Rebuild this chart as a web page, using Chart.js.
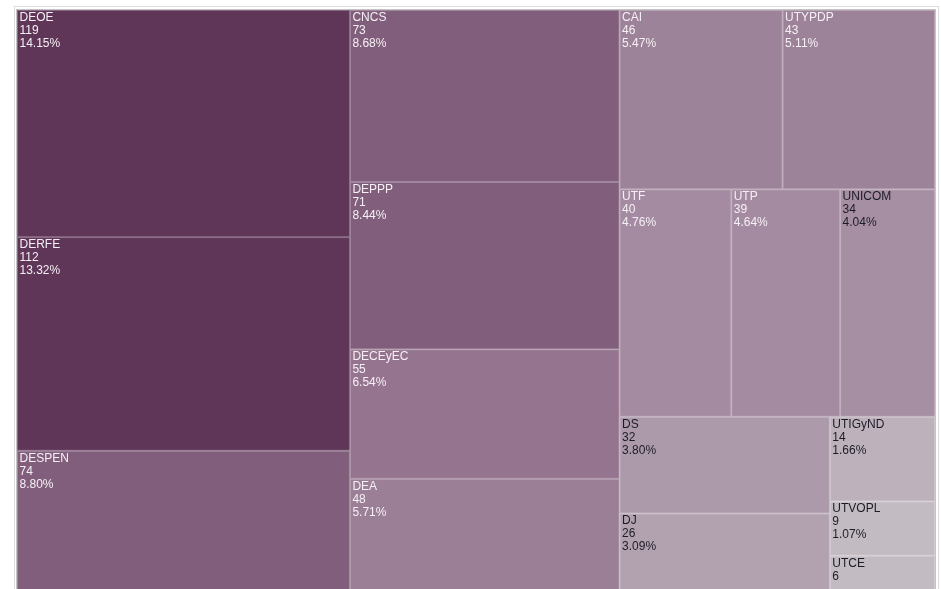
<!DOCTYPE html>
<html>
<head>
<meta charset="utf-8">
<script src="https://cdn.jsdelivr.net/npm/chart.js@4/dist/chart.umd.min.js"></script>
<style>
  html, body { margin: 0; padding: 0; background: #fff; overflow: hidden; }
  #frame { position: absolute; left: 14px; top: 6px; width: 923px; height: 700px; border: 1px solid #dcdcdc; }
  #chart { position: absolute; left: 0; top: 0; }
</style>
</head>
<body>
<div id="frame"></div>
<canvas id="chart" width="941" height="600"></canvas>
<script>
// dependencias y cantidades
const labels = ["DEOE", "DERFE", "DESPEN", "CNCS", "DEPPP", "DECEyEC", "DEA", "CAI", "UTYPDP",
  "UTF", "UTP", "UNICOM", "DS", "DJ", "UTIGyND", "UTVOPL", "UTCE"];
const counts = [119, 112, 74, 73, 71, 55, 48, 46, 43, 40, 39, 34, 32, 26, 14, 9, 6];

// colours per cell
const fillColors = ["#5f3558", "#5f3558", "#815f7c", "#815f7c", "#815f7c", "#95748f", "#9a7f96",
  "#9d8399", "#9d8399", "#a48ba1", "#a48ba1", "#a78fa3", "#ac9aab", "#b2a2b0", "#bdb2bb",
  "#c3bbc2", "#c3bbc2"];
const textColors = ["#f6f0f5", "#f6f0f5", "#f6f0f5", "#f6f0f5", "#f6f0f5", "#f6f0f5", "#f6f0f5",
  "#f6f0f5", "#f6f0f5", "#f6f0f5", "#f6f0f5", "#1c1c28", "#1c1c28", "#1c1c28", "#1c1c28",
  "#1c1c28", "#1c1c28"];

const total = counts.reduce((a, b) => a + b, 0);
const percent = (v) => (v / total * 100).toFixed(2) + "%";

// d3-style squarify (golden ratio)
const PHI = (1 + Math.sqrt(5)) / 2;
const squarify = (values, x0, y0, x1, y1) => {
  const out = [];
  let i0 = 0, i1 = 0, value = values.reduce((a, b) => a + b, 0);
  const n = values.length;
  while (i0 < n) {
    const dx = x1 - x0, dy = y1 - y0;
    let sum = values[i1++];
    let minV = sum, maxV = sum;
    const alpha = Math.max(dy / dx, dx / dy) / (value * PHI);
    let beta = sum * sum * alpha;
    let minRatio = Math.max(maxV / beta, beta / minV);
    for (; i1 < n; ++i1) {
      const v = values[i1];
      sum += v;
      if (v < minV) minV = v;
      if (v > maxV) maxV = v;
      beta = sum * sum * alpha;
      const r = Math.max(maxV / beta, beta / minV);
      if (r > minRatio) { sum -= v; break; }
      minRatio = r;
    }
    const dice = dx < dy;
    if (dice) {
      const ny = i1 < n ? y0 + dy * sum / value : y1;
      let x = x0;
      for (let i = i0; i < i1; i++) {
        const w = (x1 - x0) * values[i] / sum;
        out.push({ i, x0: x, y0, x1: x + w, y1: ny });
        x += w;
      }
      y0 = ny;
    } else {
      const nx = i1 < n ? x0 + dx * sum / value : x1;
      let y = y0;
      for (let i = i0; i < i1; i++) {
        const h = (y1 - y0) * values[i] / sum;
        out.push({ i, x0, y0: y, x1: nx, y1: y + h });
        y += h;
      }
      x0 = nx;
    }
    value -= sum;
    i0 = i1;
  }
  return out;
};

const LINE_H = 13;

const treemapPlugin = {
  id: "treemap",
  afterDatasetsDraw(chart) {
    const { ctx, chartArea, scales: { x, y } } = chart;
    const rects = squarify(counts, x.min, y.min, x.max, y.max);
    ctx.save();
    // border round the whole map
    ctx.strokeStyle = "#c4c4c4";
    ctx.lineWidth = 1;
    ctx.strokeRect(chartArea.left - 0.5, chartArea.top - 0.5,
      chartArea.right - chartArea.left + 1, chartArea.bottom - chartArea.top + 1);
    rects.forEach((r) => {
      const left = x.getPixelForValue(r.x0);
      const right = x.getPixelForValue(r.x1);
      const top = y.getPixelForValue(r.y0);
      const bottom = y.getPixelForValue(r.y1);
      ctx.fillStyle = fillColors[r.i];
      ctx.fillRect(left, top, right - left, bottom - top);
      ctx.strokeStyle = "rgba(255,255,255,0.25)";
      ctx.strokeRect(left + 0.5, top + 0.5, right - left - 1, bottom - top - 1);
      ctx.fillStyle = textColors[r.i];
      ctx.font = "12px Arial, 'Liberation Sans', sans-serif";
      ctx.textBaseline = "top";
      ctx.textAlign = "left";
      const lines = [labels[r.i], String(counts[r.i]), percent(counts[r.i])];
      lines.forEach((t, k) => {
        const ty = top + 1.5 + k * LINE_H;
        // only lines that fit inside the cell
        if (ty + LINE_H <= bottom) ctx.fillText(t, left + 2.5, ty);
      });
    });
    ctx.restore();
  },
};

new Chart(document.getElementById("chart").getContext("2d"), {
  type: "scatter",
  data: {
    datasets: [{
      data: counts.map(() => ({ x: 0, y: 0 })),
      pointRadius: 0,
    }],
  },
  options: {
    responsive: false,
    animation: false,
    layout: { padding: { left: 17, top: 10, right: 6, bottom: 8 } },
    plugins: { legend: { display: false }, tooltip: { enabled: false } },
    scales: {
      x: { type: "linear", min: 0, max: 918, display: false },
      y: { type: "linear", min: 0, max: 582, reverse: true, display: false },
    },
  },
  plugins: [treemapPlugin],
});
</script>
</body>
</html>
